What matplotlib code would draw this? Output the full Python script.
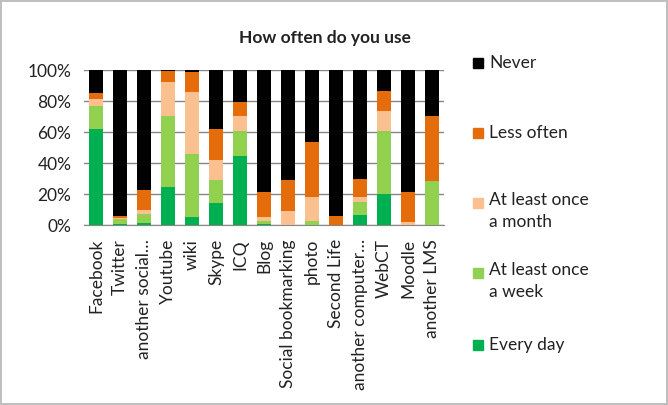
import matplotlib
matplotlib.use("Agg")
import matplotlib.pyplot as plt
from matplotlib.patches import Rectangle
from matplotlib.ticker import PercentFormatter
import numpy as np

plt.rcParams['font.family'] = ['Lato', 'DejaVu Sans']

# Data (percent of respondents)
categories = ["Facebook", "Twitter", "another social\u2026", "Youtube", "wiki", "Skype", "ICQ",
              "Blog", "Social bookmarking", "photo", "Second Life", "another computer\u2026",
              "WebCT", "Moodle", "another LMS"]
every_day = [62.0, 1.0, 1.5, 24.8, 5.4, 14.4, 44.8, 0.9, 0.0, 0.0, 0.0, 6.7, 20.0, 0.0, 0.0]
once_week = [15.0, 3.3, 5.8, 45.9, 40.7, 14.9, 16.2, 1.7, 0.0, 2.6, 0.0, 8.4, 41.0, 0.0, 28.7]
once_month = [4.5, 0.5, 2.6, 21.3, 39.5, 12.9, 9.7, 2.8, 9.1, 15.7, 0.0, 3.2, 12.9, 2.2, 0.0]
less_often = [4.0, 1.2, 12.9, 7.1, 12.9, 19.9, 9.0, 15.9, 20.3, 35.6, 6.0, 11.7, 12.7, 19.1, 42.0]
never = [14.5, 94.0, 77.2, 0.9, 1.5, 37.9, 20.3, 78.7, 70.7, 46.1, 94.0, 70.0, 13.4, 78.7, 29.3]

series = [("Every day", every_day, "#00B050"),
          ("At least once\na week", once_week, "#92D050"),
          ("At least once\na month", once_month, "#FAC090"),
          ("Less often", less_often, "#E46C0A"),
          ("Never", never, "#000000")]

fig = plt.figure(figsize=(6.68, 4.05), dpi=100)
fig.patch.set_edgecolor("#BFBFBF")
fig.patch.set_linewidth(1.5)
ax = fig.add_axes([0.1257, 0.444, 0.5390, 0.383])

x = np.arange(len(categories))
bottom = np.zeros(len(categories))
for name, vals, color in series:
    vals = np.array(vals)
    ax.bar(x, vals, bottom=bottom, width=0.62, color=color, zorder=3)
    bottom += vals

ax.set_xlim(-0.5, len(categories) - 0.5)
ax.set_ylim(0, 100)
ax.set_yticks(range(0, 101, 20))
ax.yaxis.set_major_formatter(PercentFormatter(decimals=0))
ax.grid(axis="y", color="#868686", linewidth=1, zorder=0)
for s in ["top", "right", "left"]:
    ax.spines[s].set_visible(False)
ax.spines["bottom"].set_color("#868686")
ax.set_xticks(x)
ax.set_xticklabels(categories, rotation=90, fontsize=12.5, color="#222222")
ax.tick_params(axis="x", length=0, pad=10)
ax.tick_params(axis="y", length=0, labelsize=12.5, labelcolor="#222222", pad=9)

fig.text(0.487, 0.905, "How often do you use", ha="center", va="center",
         fontsize=12.5, fontweight="bold", color="#222222")

# legend, drawn by hand so the square sits at the first text line
legend_y = [340, 268, 198, 128, 58]
for (name, vals, color), ly in zip(series, legend_y):
    fig.add_artist(Rectangle((473 / 668, 1 - (ly + 10) / 405), 10 / 668, 10 / 405,
                             transform=fig.transFigure, color=color))
    if "\n" in name:
        fig.text(489 / 668, 1 - (ly - 6) / 405, name, ha="left", va="top",
                 fontsize=12.5, color="#222222", linespacing=1.45)
    else:
        fig.text(489 / 668, 1 - (ly + 5) / 405, name, ha="left", va="center",
                 fontsize=12.5, color="#222222")

fig.savefig("out.png", dpi=100, edgecolor=fig.get_edgecolor())
